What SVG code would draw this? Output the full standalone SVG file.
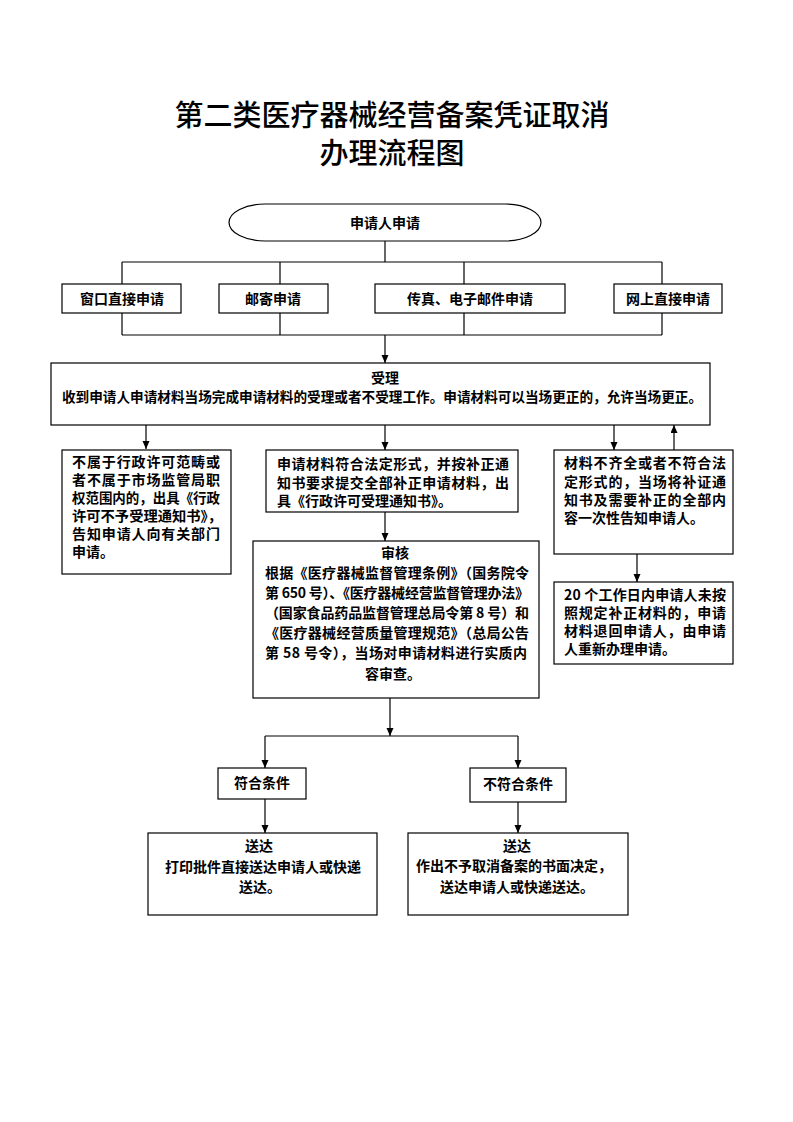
<svg xmlns="http://www.w3.org/2000/svg" width="793" height="1122" viewBox="0 0 793 1122">
<style>
.bx{fill:#fff;stroke:#000;stroke-width:1.2}
.ln{fill:none;stroke:#000;stroke-width:1.2}
.ar{fill:none;stroke:#000;stroke-width:1.2;marker-end:url(#ah)}
.t{font-family:"Noto Sans CJK SC","Liberation Sans",sans-serif;font-size:14px;font-weight:bold;fill:#000}
.c{text-anchor:middle}
.ti{font-family:"Noto Sans CJK SC","Liberation Serif",serif;font-size:29px;font-weight:500;fill:#000;text-anchor:middle}
</style>
<defs>
<marker id="ah" markerUnits="userSpaceOnUse" markerWidth="8" markerHeight="8" refX="8" refY="3.5" orient="auto">
<path d="M0,0 L8,3.5 L0,7 z" fill="#000"/>
</marker>
</defs>
<rect width="793" height="1122" fill="#fff"/>
<g id="title">
<text class="ti" x="392" y="126">第二类医疗器械经营备案凭证取消</text>
<text class="ti" x="392" y="164">办理流程图</text>
</g>
<g id="connectors">
<line class="ln" x1="385" y1="241" x2="385" y2="262"/>
<line class="ln" x1="122" y1="262" x2="662" y2="262"/>
<line class="ln" x1="122" y1="262" x2="122" y2="284"/>
<line class="ln" x1="280" y1="262" x2="280" y2="284"/>
<line class="ln" x1="464" y1="262" x2="464" y2="284"/>
<line class="ln" x1="662" y1="262" x2="662" y2="284"/>
<line class="ln" x1="122" y1="313" x2="122" y2="335"/>
<line class="ln" x1="280" y1="313" x2="280" y2="335"/>
<line class="ln" x1="464" y1="313" x2="464" y2="335"/>
<line class="ln" x1="662" y1="313" x2="662" y2="335"/>
<line class="ln" x1="122" y1="335" x2="662" y2="335"/>
<line class="ar" x1="385" y1="335" x2="385" y2="363"/>
<line class="ar" x1="146" y1="425" x2="146" y2="449"/>
<line class="ar" x1="385" y1="425" x2="385" y2="450"/>
<line class="ar" x1="614" y1="425" x2="614" y2="450"/>
<line class="ar" x1="674" y1="450" x2="674" y2="425"/>
<line class="ar" x1="385" y1="512" x2="385" y2="541"/>
<line class="ar" x1="637" y1="554" x2="637" y2="582"/>
<line class="ar" x1="390" y1="698" x2="390" y2="736"/>
<line class="ln" x1="265" y1="736" x2="518" y2="736"/>
<line class="ar" x1="265" y1="736" x2="265" y2="768"/>
<line class="ar" x1="518" y1="736" x2="518" y2="768"/>
<line class="ar" x1="265" y1="799" x2="265" y2="833"/>
<line class="ar" x1="518" y1="802" x2="518" y2="833"/>
</g>
<g id="n-apply">
<rect class="bx" x="229" y="204" width="312" height="37" rx="36" ry="18.5"/>
<text class="t c" x="385" y="228">申请人申请</text>
</g>
<g id="n-window">
<rect class="bx" x="62" y="284" width="119" height="29"/>
<text class="t c" x="122" y="304">窗口直接申请</text>
</g>
<g id="n-mail">
<rect class="bx" x="219" y="284" width="109" height="29"/>
<text class="t c" x="273" y="304">邮寄申请</text>
</g>
<g id="n-fax">
<rect class="bx" x="375" y="284" width="190" height="29"/>
<text class="t c" x="470" y="304">传真、电子邮件申请</text>
</g>
<g id="n-online">
<rect class="bx" x="614" y="284" width="108" height="29"/>
<text class="t c" x="668" y="304">网上直接申请</text>
</g>
<g id="n-accept">
<rect class="bx" x="51" y="363" width="659" height="62"/>
<text class="t c" x="385" y="383">受理</text>
<text class="t" x="62" y="402" textLength="640" lengthAdjust="spacingAndGlyphs">收到申请人申请材料当场完成申请材料的受理或者不受理工作。申请材料可以当场更正的，允许当场更正。</text>
</g>
<g id="n-reject">
<rect class="bx" x="62" y="450" width="169" height="124"/>
<text class="t" x="72" y="467" textLength="148">不属于行政许可范畴或</text>
<text class="t" x="72" y="485" textLength="148">者不属于市场监管局职</text>
<text class="t" x="72" y="503" textLength="148" lengthAdjust="spacingAndGlyphs">权范围内的，出具《行政</text>
<text class="t" x="72" y="521" textLength="150" lengthAdjust="spacingAndGlyphs">许可不予受理通知书》，</text>
<text class="t" x="72" y="539" textLength="148">告知申请人向有关部门</text>
<text class="t" x="72" y="557">申请。</text>
</g>
<g id="n-ok">
<rect class="bx" x="266" y="450" width="252" height="62"/>
<text class="t" x="277" y="469" textLength="232">申请材料符合法定形式，并按补正通</text>
<text class="t" x="277" y="488" textLength="232">知书要求提交全部补正申请材料，出</text>
<text class="t" x="277" y="506">具《行政许可受理通知书》。</text>
</g>
<g id="n-incomplete">
<rect class="bx" x="554" y="450" width="179" height="104"/>
<text class="t" x="564" y="468" textLength="162">材料不齐全或者不符合法</text>
<text class="t" x="564" y="487" textLength="162">定形式的，当场将补证通</text>
<text class="t" x="564" y="505" textLength="162">知书及需要补正的全部内</text>
<text class="t" x="564" y="523">容一次性告知申请人。</text>
</g>
<g id="n-return">
<rect class="bx" x="554" y="582" width="179" height="82"/>
<text class="t" x="564" y="600" textLength="162">20 个工作日内申请人未按</text>
<text class="t" x="564" y="618" textLength="162">照规定补正材料的，申请</text>
<text class="t" x="564" y="636" textLength="162">材料退回申请人，由申请</text>
<text class="t" x="564" y="654">人重新办理申请。</text>
</g>
<g id="n-review">
<rect class="bx" x="253" y="541" width="286" height="157"/>
<text class="t c" x="395" y="558">审核</text>
<text class="t" x="265" y="578" textLength="264">根据《医疗器械监督管理条例》（国务院令</text>
<text class="t" x="265" y="598" textLength="264">第 650 号）、《医疗器械经营监督管理办法》</text>
<text class="t" x="265" y="618" textLength="264">（国家食品药品监督管理总局令第 8 号）和</text>
<text class="t" x="265" y="638" textLength="264">《医疗器械经营质量管理规范》（总局公告</text>
<text class="t" x="265" y="658" textLength="262">第 58 号令），当场对申请材料进行实质内</text>
<text class="t c" x="393" y="679">容审查。</text>
</g>
<g id="n-meet">
<rect class="bx" x="218" y="768" width="88" height="31"/>
<text class="t c" x="262" y="788">符合条件</text>
</g>
<g id="n-notmeet">
<rect class="bx" x="470" y="768" width="96" height="34"/>
<text class="t c" x="518" y="789">不符合条件</text>
</g>
<g id="n-deliver1">
<rect class="bx" x="148" y="833" width="229" height="82"/>
<text class="t c" x="259" y="851">送达</text>
<text class="t c" x="263" y="872">打印批件直接送达申请人或快递</text>
<text class="t c" x="260" y="892">送达。</text>
</g>
<g id="n-deliver2">
<rect class="bx" x="408" y="833" width="220" height="82"/>
<text class="t c" x="517" y="851">送达</text>
<text class="t c" x="514" y="871">作出不予取消备案的书面决定，</text>
<text class="t c" x="517" y="892">送达申请人或快递送达。</text>
</g>
</svg>
